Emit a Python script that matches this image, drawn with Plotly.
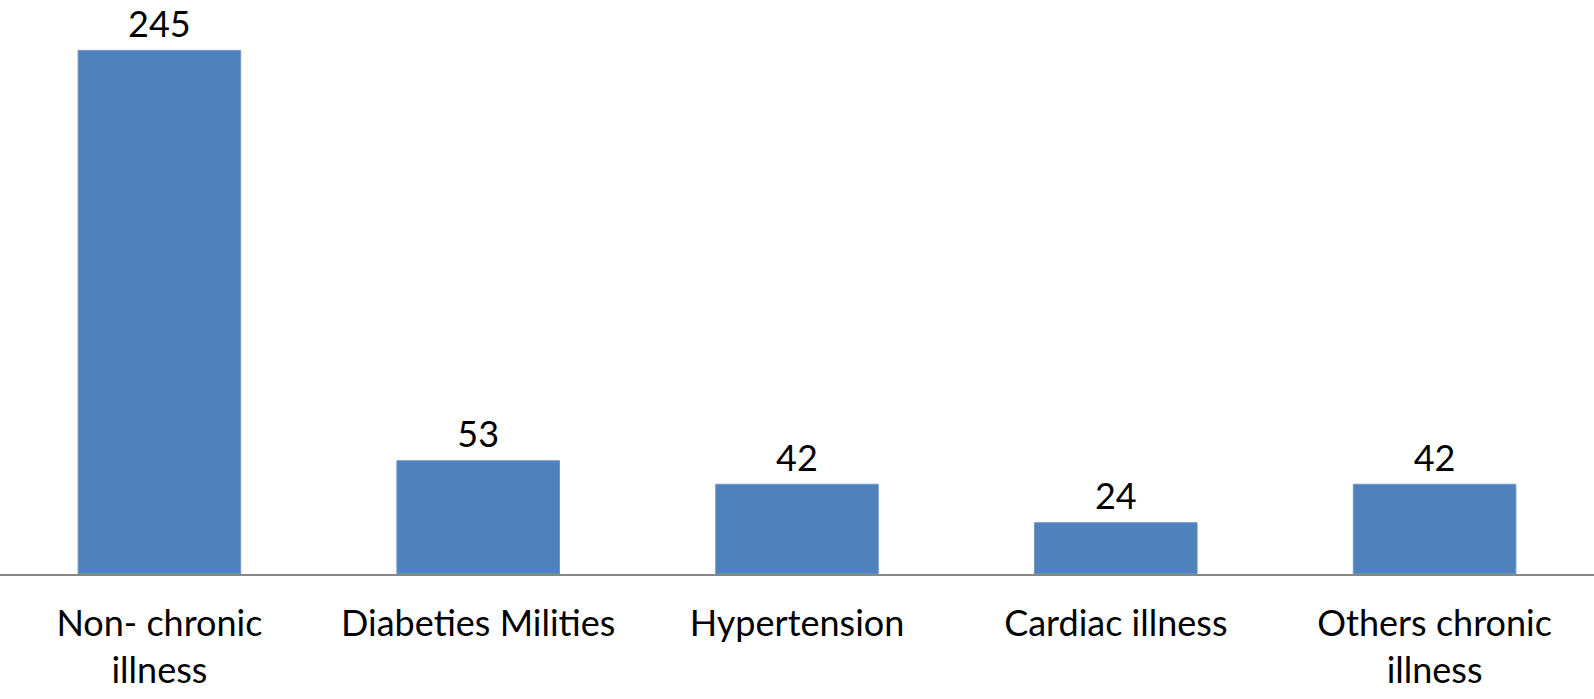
import plotly.graph_objects as go

categories = ["Non- chronic<br>illness", "Diabeties Milities", "Hypertension",
              "Cardiac illness", "Others chronic<br>illness"]
values = [245, 53, 42, 24, 42]

FONT = "Lato"

fig = go.Figure()
fig.add_trace(go.Bar(
    x=categories, y=values,
    marker=dict(color="#4F81BD", line=dict(color="#6E96C8", width=1)),
    width=0.51, hoverinfo="x+y",
))
fig.add_trace(go.Scatter(
    x=categories, y=values, mode="markers+text",
    marker=dict(size=6, color="rgba(0,0,0,0)"),
    text=[str(v) for v in values], textposition="top center",
    textfont=dict(family=FONT, size=36, color="#000000"),
    cliponaxis=False, hoverinfo="skip",
))

fig.update_layout(
    width=1594, height=699,
    margin=dict(l=0, r=0, t=0, b=125, autoexpand=False),
    paper_bgcolor="white", plot_bgcolor="white",
    showlegend=False,
    font=dict(family=FONT, size=36, color="#000000"),
)
fig.update_xaxes(showline=True, linecolor="#878787", linewidth=2,
                 ticks="", showgrid=False, ticklabelstandoff=17, automargin=False,
                 tickfont=dict(family=FONT, size=36, color="#000000"))
fig.update_yaxes(range=[0, 268.6], visible=False, showgrid=False, zeroline=False,
                 automargin=False)

fig.write_html("out.html", config={"displayModeBar": False},
               post_script="document.body.style.margin='0';document.body.style.overflow='hidden';")
